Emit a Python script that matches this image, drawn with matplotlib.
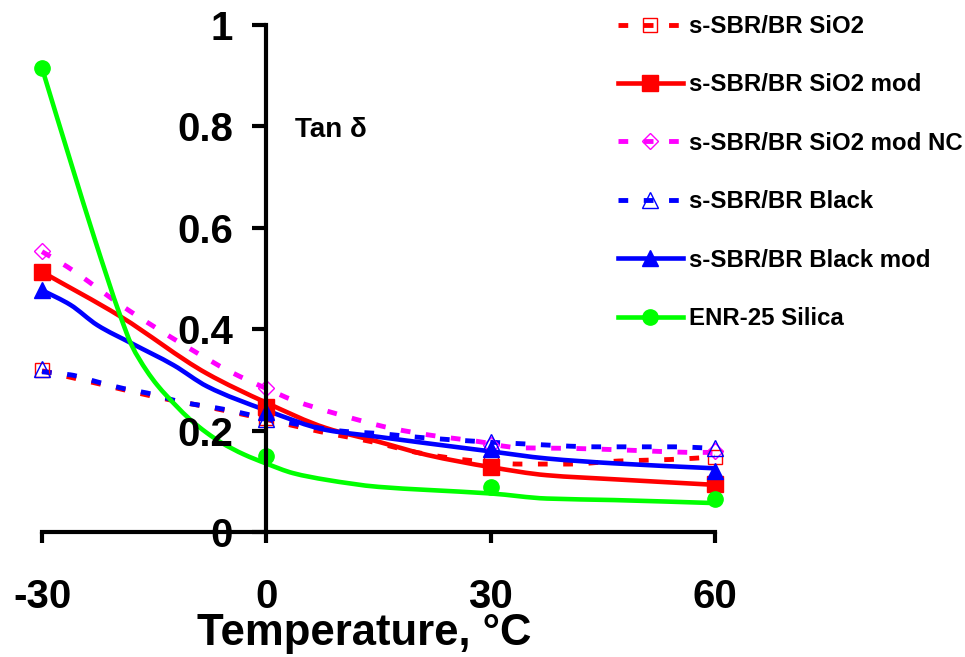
import matplotlib
matplotlib.use("Agg")
import matplotlib.pyplot as plt
import numpy as np
from matplotlib.lines import Line2D
from matplotlib.path import Path
from matplotlib.patches import PathPatch

plt.rcParams['font.family'] = ['Liberation Sans', 'DejaVu Sans']
plt.rcParams['font.weight'] = 'bold'

# measured points (markers)
temps = [-30, 0, 30, 60]
sio2 = [0.319, 0.225, 0.136, 0.147]
sio2_mod = [0.513, 0.247, 0.128, 0.095]
sio2_nc = [0.555, 0.285, 0.172, 0.160]
black = [0.321, 0.223, 0.178, 0.166]
black_mod = [0.477, 0.237, 0.163, 0.121]
enr = [0.915, 0.149, 0.088, 0.066]

# curve traces
sio2_t = [-30, -22.6, -15, -7, 0, 7.2, 14.1, 20.8, 27.3, 34, 40.4, 47.1, 54, 60]
sio2_v = [0.318, 0.293, 0.267, 0.244, 0.222, 0.198, 0.178, 0.155, 0.141, 0.134, 0.134, 0.140, 0.143, 0.148]
mod_t = [-30, -19.5, -8, 0, 8, 15, 21.5, 30, 37.5, 46.5, 60]
mod_v = [0.513, 0.425, 0.313, 0.255, 0.205, 0.178, 0.152, 0.128, 0.112, 0.104, 0.093]
nc_t = [-30, -26.6, -19.1, -10.6, -4.8, 0, 3.6, 9.9, 16.6, 23.3, 27.7, 34, 40.6, 47.3, 57.6, 60]
nc_v = [0.553, 0.523, 0.444, 0.365, 0.316, 0.283, 0.260, 0.231, 0.205, 0.188, 0.180, 0.166, 0.165, 0.162, 0.157, 0.157]
blk_t = [-30, -26.2, -22.6, -19.1, -15.9, -11.5, -5.3, 0, 3.6, 7.2, 10.8, 14.3, 21, 27.9, 34.2, 44.4, 54.5, 60]
blk_v = [0.316, 0.310, 0.296, 0.283, 0.274, 0.257, 0.241, 0.224, 0.214, 0.205, 0.198, 0.195, 0.186, 0.179, 0.174, 0.168, 0.168, 0.165]
bmod_t = [-30, -26.2, -22.6, -18, -12.4, -7.9, 0, 8.1, 14.8, 21.5, 30, 37.5, 46.4, 60]
bmod_v = [0.477, 0.448, 0.408, 0.372, 0.329, 0.287, 0.240, 0.201, 0.188, 0.175, 0.159, 0.145, 0.1355, 0.1256]
enr_t = [-30, -26, -23, -19.5, -18, -16, -14.6, -12, -10.2, -8, -6.1, -3, 0, 3.6, 8, 15, 21.5, 30, 37.5, 46.5, 60]
enr_v = [0.915, 0.722, 0.580, 0.425, 0.368, 0.318, 0.290, 0.248, 0.222, 0.196, 0.177, 0.153, 0.135, 0.116, 0.103, 0.089, 0.083, 0.076, 0.066, 0.063, 0.057]

labels = ["s-SBR/BR SiO2", "s-SBR/BR SiO2 mod", "s-SBR/BR SiO2 mod NC",
          "s-SBR/BR Black", "s-SBR/BR Black mod", "ENR-25 Silica"]


def smooth_path(t, v):
    # monotone cubic through the traced points, as bezier segments
    t = np.asarray(t, float)
    v = np.asarray(v, float)
    h = np.diff(t)
    d = np.diff(v) / h
    m = np.zeros(len(t))
    for k in range(1, len(t) - 1):
        if d[k - 1] * d[k] > 0:
            w1 = 2 * h[k] + h[k - 1]
            w2 = h[k] + 2 * h[k - 1]
            m[k] = (w1 + w2) / (w1 / d[k - 1] + w2 / d[k])
    m[0] = d[0]
    m[-1] = d[-1]
    verts = [(t[0], v[0])]
    codes = [Path.MOVETO]
    for k in range(len(t) - 1):
        verts += [(t[k] + h[k] / 3, v[k] + m[k] * h[k] / 3),
                  (t[k + 1] - h[k] / 3, v[k + 1] - m[k + 1] * h[k] / 3),
                  (t[k + 1], v[k + 1])]
        codes += [Path.CURVE4] * 3
    return Path(verts, codes)


dash = (0, (2.0, 3.2))
series = [
    (sio2_t, sio2_v, sio2, dict(color='red', ls=dash, lw=3.5), dict(marker='s', mfc='none', mec='red', ms=10, mew=1)),
    (mod_t, mod_v, sio2_mod, dict(color='red', ls='-', lw=3.3), dict(marker='s', mfc='red', mec='red', ms=11)),
    (nc_t, nc_v, sio2_nc, dict(color='#ff00ff', ls=dash, lw=3.5), dict(marker='D', mfc='none', mec='#ff00ff', ms=8, mew=1)),
    (blk_t, blk_v, black, dict(color='blue', ls=dash, lw=3.5), dict(marker='^', mfc='none', mec='blue', ms=11, mew=1)),
    (bmod_t, bmod_v, black_mod, dict(color='blue', ls='-', lw=3.3), dict(marker='^', mfc='blue', mec='blue', ms=12)),
    (enr_t, enr_v, enr, dict(color='#00ff00', ls='-', lw=3.3), dict(marker='o', mfc='#00ff00', mec='#00ff00', ms=11)),
]

fig = plt.figure(figsize=(9.65, 6.57), dpi=100)
ax = fig.add_axes([42 / 965, 125 / 657, 673 / 965, 507 / 657])

handles = []
for t, v, pts, lstyle, mstyle in series:
    ax.add_patch(PathPatch(smooth_path(t, v), fill=False, edgecolor=lstyle['color'],
                           lw=lstyle['lw'], ls=lstyle['ls'], clip_on=False))
    ax.plot(temps, pts, ls='none', clip_on=False, **mstyle)
    handles.append(Line2D([], [], **lstyle, **mstyle))

ax.set_xlim(-30, 60)
ax.set_ylim(0, 1)
ax.spines['left'].set_position(('data', 0))
ax.spines['top'].set_visible(False)
ax.spines['right'].set_visible(False)
for s in ['left', 'bottom']:
    ax.spines[s].set_linewidth(3)

ax.set_xticks(temps)
ax.set_xticklabels([str(t) for t in temps])
ax.set_yticks([0, 0.2, 0.4, 0.6, 0.8, 1])
ax.set_yticklabels(["0", "0.2", "0.4", "0.6", "0.8", "1"])
ax.tick_params(axis='both', direction='out', width=3, labelsize=29)
ax.tick_params(axis='y', length=10, pad=14)
ax.tick_params(axis='x', length=8, pad=25)

fig.text(295 / 965, 1 - 130 / 657, "Tan δ", fontsize=20, va='center', ha='left')
fig.text(364 / 965, 1 - 645 / 657, "Temperature, °C", fontsize=31.4, ha='center', va='baseline')

fig.legend(handles, labels, loc='upper left', bbox_to_anchor=(618 / 965, 1 - 15 / 657),
           frameon=False, borderpad=0, borderaxespad=0, handlelength=2.7, handletextpad=0.25,
           labelspacing=1.475, fontsize=17.3, numpoints=1)

fig.savefig("out.png", dpi=100)
